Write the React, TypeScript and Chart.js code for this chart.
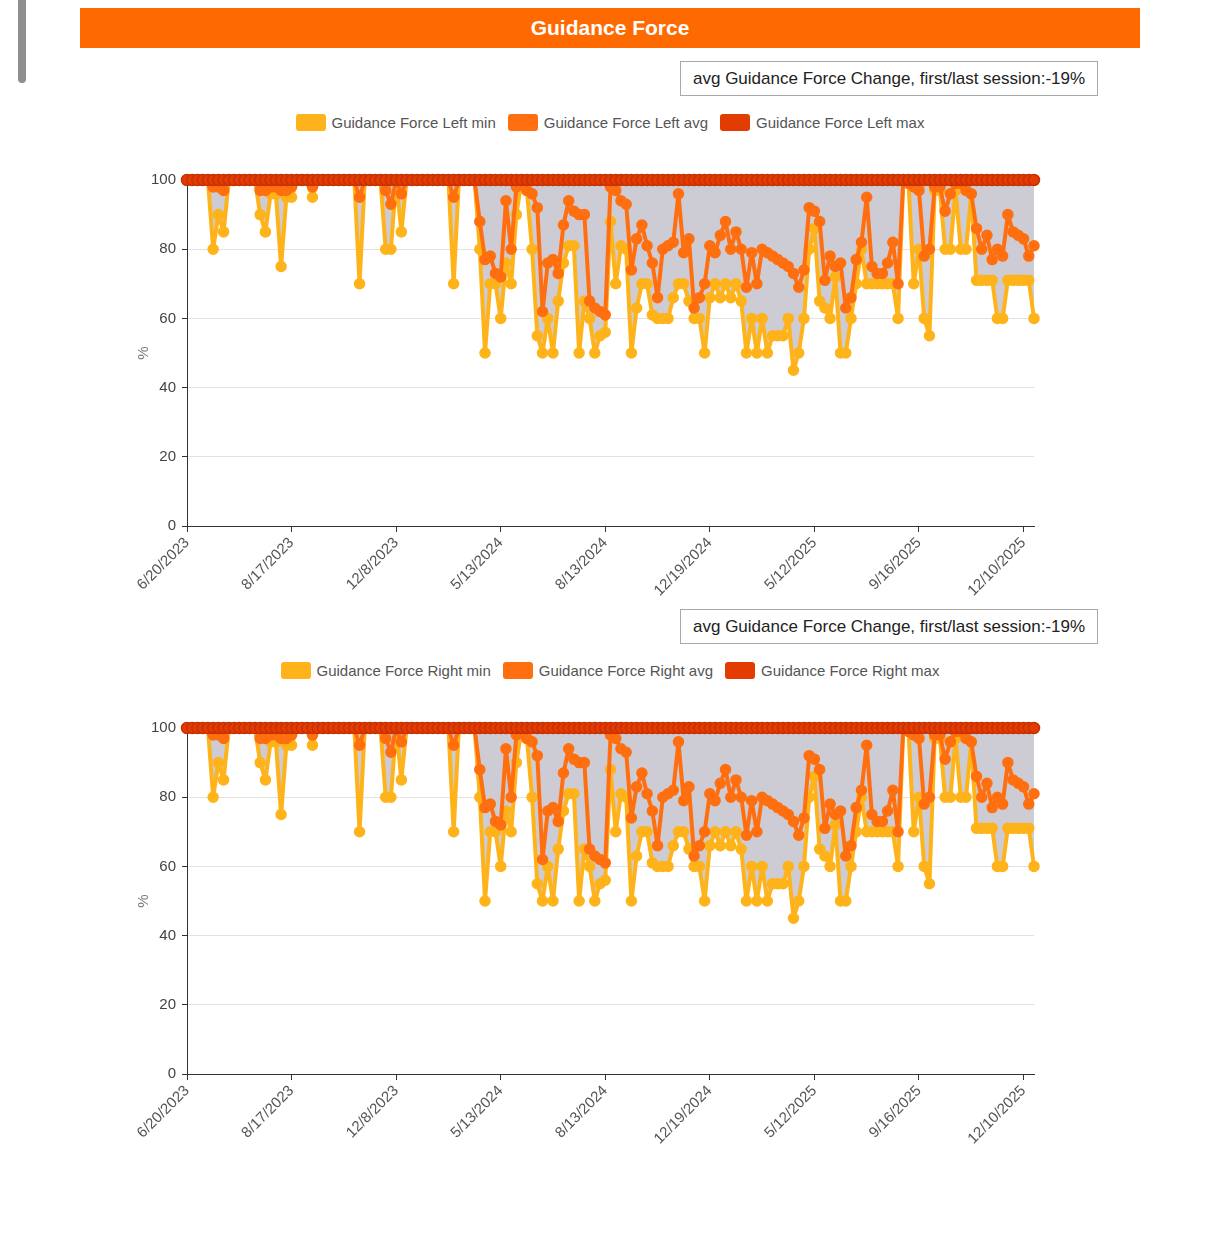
import React, { useEffect, useRef } from 'react';
import { Chart, registerables } from 'chart.js';

Chart.register(...registerables);

// ---------- data ----------
const tickLabels = ['6/20/2023', '8/17/2023', '12/8/2023', '5/13/2024', '8/13/2024', '12/19/2024', '5/12/2025', '9/16/2025', '12/10/2025'];
const tickEvery = 20;

const leftMin = [
  100, 100, 100, 100, 100, 80, 90, 85, 100, 100,
  100, 100, 100, 100, 90, 85, 96, 96, 75, 95,
  95, 100, 100, 100, 95, 100, 100, 100, 100, 100,
  100, 100, 100, 70, 100, 100, 100, 100, 80, 80,
  100, 85, 100, 100, 100, 100, 100, 100, 100, 100,
  100, 70, 100, 100, 100, 100, 80, 50, 70, 70,
  60, 76, 70, 90, 100, 97, 80, 55, 50, 60,
  50, 65, 76, 81, 81, 50, 65, 60, 50, 55,
  56, 88, 70, 81, 80, 50, 63, 70, 70, 61,
  60, 60, 60, 66, 70, 70, 65, 60, 60, 50,
  66, 70, 66, 70, 66, 70, 65, 50, 60, 50,
  60, 50, 55, 55, 55, 60, 45, 50, 60, 80,
  86, 65, 63, 60, 72, 50, 50, 60, 70, 80,
  70, 70, 70, 70, 70, 70, 60, 100, 99, 70,
  80, 60, 55, 97, 97, 80, 80, 97, 80, 80,
  96, 71, 71, 71, 71, 60, 60, 71, 71, 71,
  71, 71, 60,
];
const leftAvg = [
  100, 100, 100, 100, 100, 98, 98, 97, 100, 100,
  100, 100, 100, 100, 97, 97, 98, 98, 97, 97,
  98, 100, 100, 100, 98, 100, 100, 100, 100, 100,
  100, 100, 100, 95, 100, 100, 100, 100, 97, 93,
  100, 96, 100, 100, 100, 100, 100, 100, 100, 100,
  100, 95, 100, 100, 100, 100, 88, 77, 78, 73,
  72, 94, 80, 98, 100, 97, 96, 92, 62, 76,
  77, 73, 87, 94, 91, 90, 90, 65, 63, 62,
  61, 98, 97, 94, 93, 74, 83, 87, 81, 76,
  66, 80, 81, 82, 96, 79, 83, 63, 66, 70,
  81, 79, 84, 88, 80, 85, 80, 69, 79, 70,
  80, 79, 78, 77, 76, 75, 73, 69, 74, 92,
  91, 88, 71, 78, 75, 76, 63, 66, 77, 82,
  95, 75, 73, 73, 76, 82, 70, 100, 99, 98,
  97, 78, 80, 98, 98, 91, 96, 99, 99, 97,
  96, 86, 80, 84, 77, 80, 78, 90, 85, 84,
  83, 78, 81,
];
const leftMax = Array(163).fill(100);

const rightMin = [
  100, 100, 100, 100, 100, 80, 90, 85, 100, 100,
  100, 100, 100, 100, 90, 85, 96, 96, 75, 95,
  95, 100, 100, 100, 95, 100, 100, 100, 100, 100,
  100, 100, 100, 70, 100, 100, 100, 100, 80, 80,
  100, 85, 100, 100, 100, 100, 100, 100, 100, 100,
  100, 70, 100, 100, 100, 100, 80, 50, 70, 70,
  60, 76, 70, 90, 100, 97, 80, 55, 50, 60,
  50, 65, 76, 81, 81, 50, 65, 60, 50, 55,
  56, 88, 70, 81, 80, 50, 63, 70, 70, 61,
  60, 60, 60, 66, 70, 70, 65, 60, 60, 50,
  66, 70, 66, 70, 66, 70, 65, 50, 60, 50,
  60, 50, 55, 55, 55, 60, 45, 50, 60, 80,
  86, 65, 63, 60, 72, 50, 50, 60, 70, 80,
  70, 70, 70, 70, 70, 70, 60, 100, 99, 70,
  80, 60, 55, 97, 97, 80, 80, 97, 80, 80,
  96, 71, 71, 71, 71, 60, 60, 71, 71, 71,
  71, 71, 60,
];
const rightAvg = [
  100, 100, 100, 100, 100, 98, 98, 97, 100, 100,
  100, 100, 100, 100, 97, 97, 98, 98, 97, 97,
  98, 100, 100, 100, 98, 100, 100, 100, 100, 100,
  100, 100, 100, 95, 100, 100, 100, 100, 97, 93,
  100, 96, 100, 100, 100, 100, 100, 100, 100, 100,
  100, 95, 100, 100, 100, 100, 88, 77, 78, 73,
  72, 94, 80, 98, 100, 97, 96, 92, 62, 76,
  77, 73, 87, 94, 91, 90, 90, 65, 63, 62,
  61, 98, 97, 94, 93, 74, 83, 87, 81, 76,
  66, 80, 81, 82, 96, 79, 83, 63, 66, 70,
  81, 79, 84, 88, 80, 85, 80, 69, 79, 70,
  80, 79, 78, 77, 76, 75, 73, 69, 74, 92,
  91, 88, 71, 78, 75, 76, 63, 66, 77, 82,
  95, 75, 73, 73, 76, 82, 70, 100, 99, 98,
  97, 78, 80, 98, 98, 91, 96, 99, 99, 97,
  96, 86, 80, 84, 77, 80, 78, 90, 85, 84,
  83, 78, 81,
];
const rightMax = Array(163).fill(100);

const changeText = 'avg Guidance Force Change, first/last session:-19%';

// ---------- styles ----------
const FONT = '"Liberation Sans", Arial, Helvetica, sans-serif';
const COL_MIN = '#FFB31A';
const COL_AVG = '#FF6F0F';
const COL_MAX = '#E23C03';
const COL_FILL = 'rgb(205,203,212)';

type ChartProps = { top: number; side: string; minV: number[]; avgV: number[]; maxV: number[] };

function GuidanceChart({ top, side, minV, avgV, maxV }: ChartProps) {
  const ref = useRef<HTMLCanvasElement>(null);
  useEffect(() => {
    if (!ref.current) return;
    const pts = (arr: number[]) => arr.map((y, x) => ({ x, y }));
    const common = {
      borderWidth: 4,
      borderJoinStyle: 'round' as const,
      borderCapStyle: 'round' as const,
      pointRadius: 5,
      pointBorderWidth: 1.5,
      pointHoverRadius: 5,
      tension: 0,
      clip: false as const,
    };
    const tickFont = { family: FONT, size: 15 };
    const chart = new Chart(ref.current, {
      type: 'line',
      data: {
        datasets: [
          {
            label: `Guidance Force ${side} min`,
            data: pts(minV),
            borderColor: COL_MIN,
            backgroundColor: COL_FILL,
            pointBackgroundColor: COL_MIN,
            pointBorderColor: COL_MIN,
            fill: 2,
            order: 3,
            ...common,
          },
          {
            label: `Guidance Force ${side} avg`,
            data: pts(avgV),
            borderColor: COL_AVG,
            backgroundColor: COL_AVG,
            pointBackgroundColor: COL_AVG,
            pointBorderColor: COL_AVG,
            fill: false,
            order: 2,
            ...common,
          },
          {
            label: `Guidance Force ${side} max`,
            data: pts(maxV),
            borderColor: COL_MAX,
            backgroundColor: COL_MAX,
            pointBackgroundColor: COL_MAX,
            pointBorderColor: '#c83000',
            fill: false,
            order: 1,
            ...common,
            pointRadius: 5.5,
          },
        ],
      },
      options: {
        responsive: false,
        animation: false,
        devicePixelRatio: 1,
        events: [],
        layout: { padding: { top: 39, right: 106, left: 0, bottom: 0 } },
        plugins: {
          legend: { display: false },
          tooltip: { enabled: false },
        },
        scales: {
          x: {
            type: 'linear',
            min: 0,
            max: minV.length - 1,
            afterBuildTicks: (s: any) => {
              s.ticks = tickLabels.map((_, k) => ({ value: k * tickEvery }));
            },
            afterFit: (s: any) => {
              s.height = 85;
            },
            grid: { drawOnChartArea: false, drawTicks: true, tickLength: 6, tickColor: '#333' },
            border: { display: true, color: '#333', width: 1 },
            ticks: {
              autoSkip: false,
              minRotation: 45,
              maxRotation: 45,
              padding: 2,
              color: '#555',
              font: tickFont,
              callback: (v: any) => tickLabels[Math.round(Number(v) / tickEvery)] ?? '',
            },
          },
          y: {
            min: 0,
            max: 100,
            afterFit: (s: any) => {
              s.width = 107;
            },
            ticks: { stepSize: 20, color: '#444', font: tickFont, padding: 6 },
            grid: {
              color: (ctx: any) => (ctx.tick && ctx.tick.value === 0 ? 'rgba(0,0,0,0)' : '#e2e2e2'),
              tickLength: 5,
              tickColor: '#333',
            },
            border: { display: true, color: '#333', width: 1 },
            title: {
              display: true,
              text: '%',
              color: '#777',
              font: { family: FONT, size: 15 },
              padding: { top: 55, bottom: 0 },
            },
          },
        },
      },
    } as any);
    return () => chart.destroy();
  }, [side, minV, avgV, maxV]);

  const items = [
    { label: `Guidance Force ${side} min`, color: COL_MIN },
    { label: `Guidance Force ${side} avg`, color: COL_AVG },
    { label: `Guidance Force ${side} max`, color: COL_MAX },
  ];

  return (
    <>
      <div
        style={{
          position: 'absolute',
          left: 680,
          top: top,
          width: 418,
          height: 35,
          boxSizing: 'border-box',
          border: '1px solid #a9a9a9',
          paddingLeft: 12,
          fontSize: 17,
          lineHeight: '33px',
          color: '#222',
          whiteSpace: 'nowrap',
          background: '#fff',
        }}
      >
        {changeText}
      </div>
      <div
        style={{
          position: 'absolute',
          left: 80,
          width: 1060,
          top: top + 53,
          height: 17,
          display: 'flex',
          justifyContent: 'center',
          alignItems: 'center',
          gap: 12,
        }}
      >
        {items.map((it) => (
          <div key={it.label} style={{ display: 'flex', alignItems: 'center' }}>
            <div style={{ width: 30, height: 17, borderRadius: 3, background: it.color, marginRight: 6 }} />
            <span style={{ fontSize: 15, color: '#555', whiteSpace: 'nowrap', lineHeight: '17px' }}>{it.label}</span>
          </div>
        ))}
      </div>
      <canvas
        ref={ref}
        width={1060}
        height={470}
        style={{ position: 'absolute', left: 80, top: top + 80, width: 1060, height: 470 }}
      />
    </>
  );
}

export default function App() {
  return (
    <div
      style={{
        position: 'absolute',
        left: 0,
        top: 0,
        width: 1220,
        height: 1252,
        background: '#fff',
        fontFamily: FONT,
        overflow: 'hidden',
      }}
    >
      <div style={{ position: 'absolute', left: 18, top: -6, width: 8, height: 89, borderRadius: 4, background: '#8e8e8e' }} />
      <div
        style={{
          position: 'absolute',
          left: 80,
          top: 8,
          width: 1060,
          height: 40,
          background: '#FF6A00',
          color: '#fff',
          fontWeight: 'bold',
          fontSize: 21,
          lineHeight: '40px',
          textAlign: 'center',
        }}
      >
        Guidance Force
      </div>
      <GuidanceChart top={61} side="Left" minV={leftMin} avgV={leftAvg} maxV={leftMax} />
      <GuidanceChart top={609} side="Right" minV={rightMin} avgV={rightAvg} maxV={rightMax} />
    </div>
  );
}
